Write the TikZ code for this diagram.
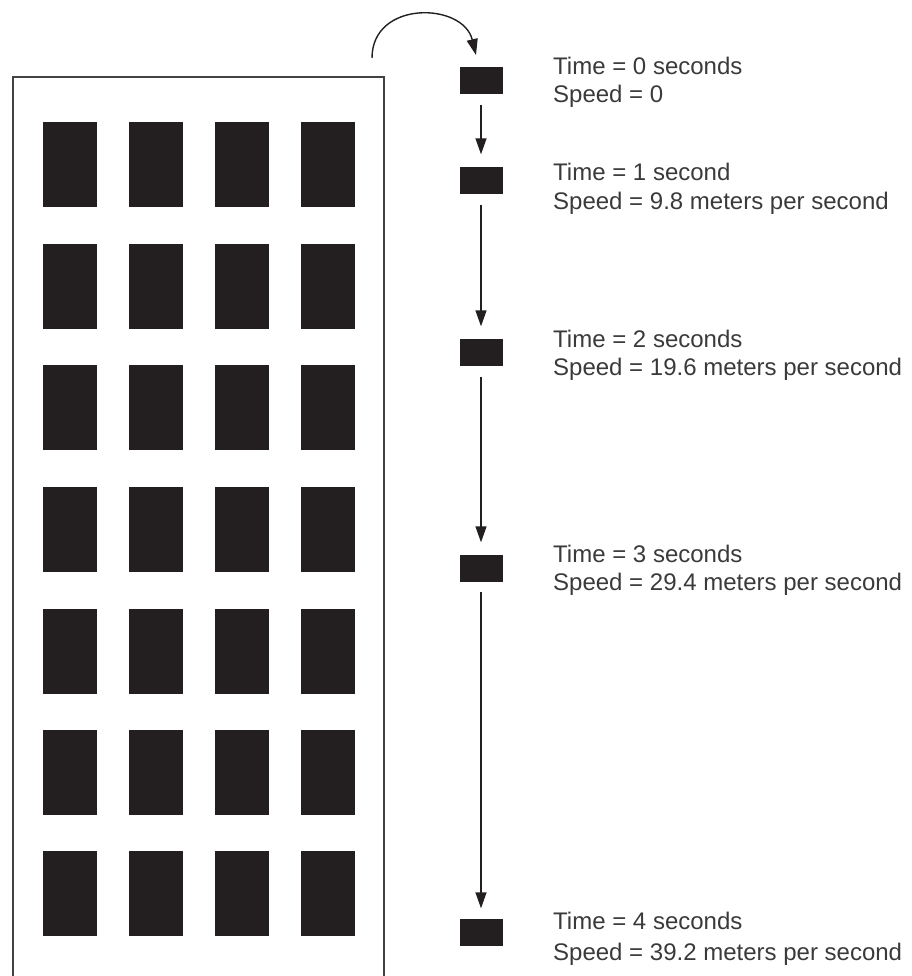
\documentclass[tikz,border=0pt]{standalone}
\usepackage{fontspec}
\setmainfont{Liberation Sans}
\usetikzlibrary{arrows.meta}
\definecolor{ink}{HTML}{231F20}
\definecolor{txt}{HTML}{3A3A3A}
\begin{document}
\begin{tikzpicture}[x=1pt,y=-1pt,
  win/.style={fill=ink,draw=none},
  ball/.style={rectangle,fill=ink,draw=none,minimum width=43pt,minimum height=27pt,inner sep=0pt},
  lbl/.style={anchor=base west,inner sep=0pt,text=txt,font=\fontsize{24}{28}\selectfont},
  arr/.style={draw=ink,line width=1.4pt,-{Triangle[length=16pt,width=11pt]}}]
\useasboundingbox (0,0) rectangle (911,976);
\begin{scope}
\clip (0,0) rectangle (911,976);
\draw[ink!85,line width=2pt] (13,990) -- (13,77) -- (384,77) -- (384,990);
\foreach \r/\y in {0/122,1/243.5,2/365,3/487,4/608.5,5/730,6/851}{
  \foreach \x in {43,129,215,301}{
    \fill[ink] (\x,\y) rectangle (\x+54,\y+85);
  }
}
\end{scope}
\node[ball] (b0) at (481,81) {};
\node[ball] (b1) at (481,181) {};
\node[ball] (b2) at (481,352) {};
\node[ball] (b3) at (481,568) {};
\node[ball] (b4) at (481,932) {};
\coordinate (cs) at (372,58);
\coordinate (ce) at (476,55);
\draw[arr] (cs) .. controls (372,0) and (463,2) .. (ce);
\draw[arr] ([yshift=-10pt]b0.south) -- ([yshift=13pt]b1.north);
\draw[arr] ([yshift=-10pt]b1.south) -- ([yshift=12pt]b2.north);
\draw[arr] ([yshift=-11pt]b2.south) -- ([yshift=12pt]b3.north);
\draw[arr] ([yshift=-10pt]b3.south) -- ([yshift=10pt]b4.north);
\node[lbl] (t0) at (553,75) {Time = 0 seconds};
\node[lbl] (s0) at (553,103) {Speed = 0};
\node[lbl] (t1) at (553,181) {Time = 1 second};
\node[lbl] (s1) at (553,210) {Speed = 9.8 meters per second};
\node[lbl] (t2) at (553,347) {Time = 2 seconds};
\node[lbl] (s2) at (553,375) {Speed = 19.6 meters per second};
\node[lbl] (t3) at (553,562) {Time = 3 seconds};
\node[lbl] (s3) at (553,590) {Speed = 29.4 meters per second};
\node[lbl] (t4) at (553,929) {Time = 4 seconds};
\node[lbl] (s4) at (553,960) {Speed = 39.2 meters per second};
\end{tikzpicture}
\end{document}
